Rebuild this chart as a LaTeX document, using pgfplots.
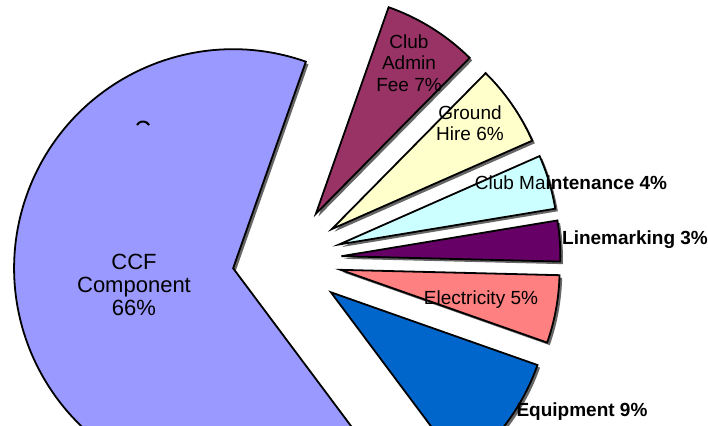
\documentclass[border=0pt]{standalone}
\usepackage{pgfplots}
\pgfplotsset{compat=1.18}
\usepackage{pgfplotstable}
\usepackage{fontspec}
\setmainfont{Liberation Sans}
\definecolor{cCCF}{HTML}{9999FF}
\definecolor{cEquip}{HTML}{0066CC}
\definecolor{cElec}{HTML}{FF8080}
\definecolor{cLine}{HTML}{660066}
\definecolor{cMaint}{HTML}{CCFFFF}
\definecolor{cGround}{HTML}{FFFFCC}
\definecolor{cAdmin}{HTML}{993366}
% slices in drawing order (counter-clockwise from 70.6 degrees)
\pgfplotstableread{
label value
CCF 65.6
Equipment 9.4
Electricity 5
Linemarking 3
ClubMaintenance 4
GroundHire 6
ClubAdminFee 7
}\piedata
\begin{document}
\begin{tikzpicture}
\useasboundingbox (0,0) rectangle (354pt,212.5pt);
\clip (0,0) rectangle (354pt,212.5pt);
\begin{axis}[x=0.5pt,y=0.5pt,xmin=0,xmax=708,ymin=0,ymax=425,
  hide axis,anchor=origin,at={(0pt,0pt)},disabledatascaling,clip=false]
\def\cumAng{70.6}
\pgfplotstablegetrowsof{\piedata}
\pgfmathtruncatemacro\Nrows{\pgfplotsretval-1}
\pgfplotsforeachungrouped \i in {0,...,\Nrows}{%
  \pgfplotstablegetelem{\i}{value}\of\piedata
  \pgfmathsetmacro\sAng{\cumAng}%
  \pgfmathsetmacro\eAng{\cumAng+3.6*\pgfplotsretval}%
  \pgfmathsetmacro\mAng{(\sAng+\eAng)/2}%
  \pgfmathsetmacro\ex{287+54.5*cos(\mAng)}%
  \pgfmathsetmacro\ey{165+54.5*sin(\mAng)}%
  \pgfmathsetmacro\sx{\ex+2.6}%
  \pgfmathsetmacro\sy{\ey-2.6}%
  \edef\col{\ifcase\i cCCF\or cEquip\or cElec\or cLine\or cMaint\or cGround\or cAdmin\fi}%
  \edef\doit{%
    \noexpand\fill[black!60] (axis cs:\sx,\sy) -- ++(\sAng:109.5pt) arc[start angle=\sAng,end angle=\eAng,radius=109.5pt] -- cycle;
    \noexpand\draw[fill=\col,line width=0.9pt,line join=miter] (axis cs:\ex,\ey) -- ++(\sAng:109.5pt) arc[start angle=\sAng,end angle=\eAng,radius=109.5pt] -- cycle;
  }%
  \doit
  \global\let\cumAng\eAng
}
\draw[line width=1pt] (axis cs:137,300) arc[start angle=150,end angle=30,radius=3.5pt];
\node[align=center,font=\fontsize{11}{11.5}\selectfont] at (axis cs:134,140) {CCF\\Component\\66\%};
\node[align=center,font=\fontsize{9.5}{10.75}\selectfont] at (axis cs:409,362) {Club\\Admin\\Fee 7\%};
\node[align=center,font=\fontsize{9.5}{10.75}\selectfont] at (axis cs:470,302) {Ground\\Hire 6\%};
\node[font=\fontsize{9.5}{10.75}\selectfont] at (axis cs:571,242) {Club Ma\textbf{intenance 4\%}};
\node[font=\bfseries\fontsize{9.5}{10.75}\selectfont] at (axis cs:635,185) {Linemarking 3\%};
\node[font=\fontsize{9.5}{10.75}\selectfont] at (axis cs:481,125) {Electricity 5\%};
\node[font=\bfseries\fontsize{9.5}{10.75}\selectfont] at (axis cs:582,13) {Equipment 9\%};
\end{axis}
\end{tikzpicture}
\end{document}
